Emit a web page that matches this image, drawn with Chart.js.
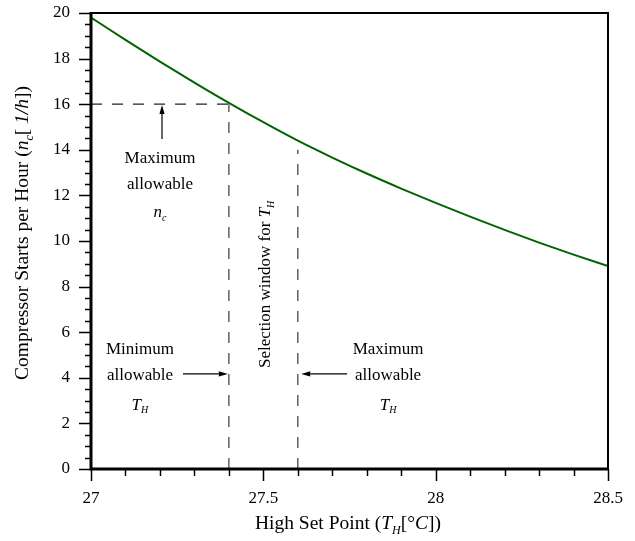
<!DOCTYPE html>
<html>
<head>
<meta charset="utf-8">
<script src="https://cdn.jsdelivr.net/npm/chart.js@4.4.1/dist/chart.umd.min.js"></script>
<style>
  html, body { margin: 0; padding: 0; background: #fff; }
  #wrap { width: 635px; height: 541px; }
</style>
</head>
<body>
<div id="wrap"><canvas id="chart"></canvas></div>
<script>
// data
const setPoints = [27.0, 27.1, 27.2, 27.3, 27.4, 27.5, 27.6, 27.7, 27.8, 27.9, 28.0, 28.1, 28.2, 28.3, 28.4, 28.5];
const startsPerHour = [19.80, 18.82, 17.87, 16.95, 16.06, 15.21, 14.40, 13.66, 12.96, 12.30, 11.67, 11.07, 10.49, 9.93, 9.40, 8.90];

const xTicks = [27, 27.5, 28, 28.5];
const yTicks = [0, 2, 4, 6, 8, 10, 12, 14, 16, 18, 20];
const xMinorStep = 0.1;
const yMinorStep = 0.5;

// limit lines
const maxStarts = 16;
const minSetPoint = 27.4;
const maxSetPoint = 27.6;
const maxSetPointLineTop = 14.0;

const FONT = "'Liberation Serif', 'Times New Roman', serif";

// draws text made of plain / italic / subscript parts, centred on x
function drawRich(ctx, parts, x, y, size) {
    const subSize = Math.round(size * 0.6);
    const fontFor = p => (p.i ? 'italic ' : '') + (p.sub ? subSize : size) + 'px ' + FONT;
    let total = 0;
    parts.forEach(p => {
        ctx.font = fontFor(p);
        p.w = ctx.measureText(p.t).width;
        total += p.w;
    });
    let cx = x - total / 2;
    const base = y + size * 0.33;
    ctx.textAlign = 'left';
    ctx.textBaseline = 'alphabetic';
    parts.forEach(p => {
        ctx.font = fontFor(p);
        ctx.fillText(p.t, cx, p.sub ? base + size * 0.22 : base);
        cx += p.w;
    });
}

function arrow(ctx, x1, y1, x2, y2) {
    const ang = Math.atan2(y2 - y1, x2 - x1);
    const len = 9, half = 2.6;
    ctx.beginPath();
    ctx.moveTo(x1, y1);
    ctx.lineTo(x2 - Math.cos(ang) * len, y2 - Math.sin(ang) * len);
    ctx.lineWidth = 1.2;
    ctx.stroke();
    ctx.beginPath();
    ctx.moveTo(x2, y2);
    ctx.lineTo(x2 - Math.cos(ang) * len - Math.sin(ang) * half, y2 - Math.sin(ang) * len + Math.cos(ang) * half);
    ctx.lineTo(x2 - Math.cos(ang) * len + Math.sin(ang) * half, y2 - Math.sin(ang) * len - Math.cos(ang) * half);
    ctx.closePath();
    ctx.fill();
}

const nc = [{t: 'n', i: true}, {t: 'c', i: true, sub: true}];
const TH = [{t: 'T', i: true}, {t: 'H', i: true, sub: true}];

// frame, minor ticks, titles and notes
const decorPlugin = {
    id: 'decor',
    afterDatasetsDraw(chart) {
        const ctx = chart.ctx;
        const xs = chart.scales.x, ys = chart.scales.y;
        const a = chart.chartArea;
        ctx.save();
        ctx.strokeStyle = '#000';
        ctx.fillStyle = '#000';

        // ticks
        ctx.lineWidth = 1.5;
        ctx.beginPath();
        for (let v = 27; v <= 28.5 + 1e-9; v += xMinorStep) {
            const px = Math.round(xs.getPixelForValue(v)) + 0.5;
            const major = xTicks.some(t => Math.abs(t - v) < 1e-6);
            ctx.moveTo(px, a.bottom);
            ctx.lineTo(px, a.bottom + (major ? 12 : 7));
        }
        for (let v = 0; v <= 20 + 1e-9; v += yMinorStep) {
            const py = Math.round(ys.getPixelForValue(v)) + 0.5;
            const major = yTicks.some(t => Math.abs(t - v) < 1e-6);
            ctx.moveTo(a.left, py);
            ctx.lineTo(a.left - (major ? 12 : 6), py);
        }
        ctx.stroke();

        // frame
        ctx.lineWidth = 2;
        ctx.beginPath();
        ctx.moveTo(a.left, a.top);
        ctx.lineTo(a.right, a.top);
        ctx.lineTo(a.right, a.bottom);
        ctx.stroke();
        ctx.lineWidth = 3;
        ctx.beginPath();
        ctx.moveTo(a.left, a.top - 1);
        ctx.lineTo(a.left, a.bottom);
        ctx.lineTo(a.right + 1, a.bottom);
        ctx.stroke();

        // axis titles
        drawRich(ctx, [{t: 'High Set Point ('}].concat(TH, [{t: '[°'}, {t: 'C', i: true}, {t: '])'}]),
            348, 523, 19.5);
        ctx.save();
        ctx.translate(22, 233);
        ctx.rotate(-Math.PI / 2);
        drawRich(ctx, [{t: 'Compressor Starts per Hour ('}].concat(nc, [{t: '[ '}, {t: '1/h', i: true}, {t: '])'}]),
            0, 0, 19.5);
        ctx.restore();

        // notes
        const X = v => xs.getPixelForValue(v);
        const Y = v => ys.getPixelForValue(v);
        const S = 17;
        drawRich(ctx, [{t: 'Maximum'}], X(27.2), Y(13.68), S);
        drawRich(ctx, [{t: 'allowable'}], X(27.2), Y(12.54), S);
        drawRich(ctx, nc, X(27.2), Y(11.3), S);
        arrow(ctx, X(27.206), Y(14.47), X(27.206), Y(15.97));

        drawRich(ctx, [{t: 'Minimum'}], X(27.142), Y(5.3), S);
        drawRich(ctx, [{t: 'allowable'}], X(27.142), Y(4.17), S);
        drawRich(ctx, TH, X(27.142), Y(2.85), S);
        arrow(ctx, X(27.267), Y(4.17), X(27.397), Y(4.17));

        drawRich(ctx, [{t: 'Maximum'}], X(27.862), Y(5.3), S);
        drawRich(ctx, [{t: 'allowable'}], X(27.862), Y(4.17), S);
        drawRich(ctx, TH, X(27.862), Y(2.85), S);
        arrow(ctx, X(27.743), Y(4.17), X(27.61), Y(4.17));

        ctx.save();
        ctx.translate(X(27.503), Y(8.1));
        ctx.rotate(-Math.PI / 2);
        drawRich(ctx, [{t: 'Selection window for '}].concat(TH), 0, 0, 17);
        ctx.restore();

        ctx.restore();
    }
};

const dash = [11, 10];

new Chart(document.getElementById('chart'), {
    type: 'scatter',
    data: {
        datasets: [
            {
                label: 'starts',
                data: setPoints.map((x, i) => ({x: x, y: startsPerHour[i]})),
                showLine: true,
                borderColor: '#006400',
                borderWidth: 2,
                pointRadius: 0,
                cubicInterpolationMode: 'monotone'
            },
            {
                label: 'max n',
                data: [{x: 27, y: maxStarts}, {x: minSetPoint, y: maxStarts}],
                showLine: true,
                borderColor: '#222',
                borderWidth: 1.2,
                borderDash: dash,
                pointRadius: 0
            },
            {
                label: 'min T',
                data: [{x: minSetPoint, y: 0}, {x: minSetPoint, y: maxStarts}],
                showLine: true,
                borderColor: '#555',
                borderWidth: 1.4,
                borderDash: dash,
                pointRadius: 0
            },
            {
                label: 'max T',
                data: [{x: maxSetPoint, y: 0}, {x: maxSetPoint, y: maxSetPointLineTop}],
                showLine: true,
                borderColor: '#555',
                borderWidth: 1.4,
                borderDash: dash,
                pointRadius: 0
            }
        ]
    },
    options: {
        responsive: true,
        maintainAspectRatio: false,
        animation: false,
        events: [],
        layout: { padding: { top: 13, right: 27, left: 0, bottom: 0 } },
        plugins: {
            legend: { display: false },
            tooltip: { enabled: false }
        },
        scales: {
            x: {
                type: 'linear',
                min: 27,
                max: 28.5,
                afterBuildTicks: scale => { scale.ticks = xTicks.map(v => ({value: v})); },
                afterFit: scale => {
                    scale.height = 72;
                    scale.paddingLeft = 0;
                    scale.paddingRight = 0;
                },
                grid: { display: false },
                border: { display: false },
                ticks: {
                    color: '#000',
                    padding: 11,
                    maxRotation: 0,
                    font: { family: FONT, size: 17 },
                    callback: v => String(v)
                }
            },
            y: {
                type: 'linear',
                min: 0,
                max: 20,
                afterBuildTicks: scale => { scale.ticks = yTicks.map(v => ({value: v})); },
                afterFit: scale => {
                    scale.width = 91;
                    scale.paddingTop = 0;
                    scale.paddingBottom = 0;
                },
                grid: { display: false },
                border: { display: false },
                ticks: {
                    color: '#000',
                    padding: 13,
                    font: { family: FONT, size: 17 }
                }
            }
        }
    },
    plugins: [decorPlugin]
});
</script>
</body>
</html>
